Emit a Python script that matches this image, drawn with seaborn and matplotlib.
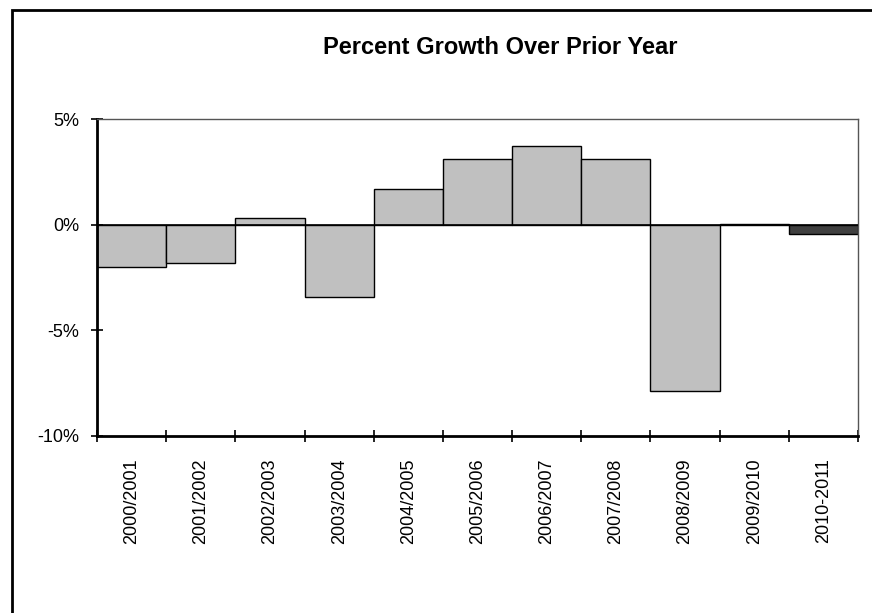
import matplotlib
matplotlib.use("Agg")
import matplotlib.pyplot as plt
import matplotlib.patches as mpatches
from matplotlib.ticker import FuncFormatter, FixedLocator
import seaborn as sns
import pandas as pd

# Data
periods = ["2000/2001", "2001/2002", "2002/2003", "2003/2004", "2004/2005",
           "2005/2006", "2006/2007", "2007/2008", "2008/2009", "2009/2010",
           "2010-2011"]
growth_pct = [-2.0, -1.8, 0.3, -3.4, 1.7, 3.1, 3.7, 3.1, -7.85, 0.05, -0.45]
bar_colors = ["#c0c0c0"] * 10 + ["#404040"]

y_ticks = [-10, -5, 0, 5]

sns.set_theme(style="white")
plt.rcParams["font.family"] = ["Liberation Sans", "DejaVu Sans"]
plt.rcParams["text.color"] = "black"

df = pd.DataFrame({"period": periods, "growth": growth_pct})

fig = plt.figure(figsize=(8.72, 6.13), dpi=100)
ax = fig.add_axes([97 / 872, 1 - 436 / 613, (858 - 97) / 872, (436 - 119) / 613])

sns.barplot(data=df, x="period", y="growth", hue="period", palette=bar_colors,
            legend=False, width=1.0, edgecolor="black", linewidth=1.0,
            saturation=1.0, ax=ax)

ax.axhline(0, color="black", linewidth=1.2, zorder=3)

ax.set_xlim(-0.5, len(periods) - 0.5)
ax.set_ylim(-10, 5)
ax.set_yticks(y_ticks)
ax.yaxis.set_major_formatter(FuncFormatter(lambda v, p: f"{v:.0f}%"))
ax.set_xlabel("")
ax.set_ylabel("")

# category labels at bar centres, tick marks at bar boundaries
ax.xaxis.set_minor_locator(FixedLocator([i - 0.5 for i in range(len(periods) + 1)]))
ax.tick_params(axis="x", which="major", length=0, pad=16, labelsize=13,
               labelrotation=90, colors="black")
ax.tick_params(axis="x", which="minor", direction="inout", length=8, width=1.2,
               bottom=True, color="black")
ax.tick_params(axis="y", which="major", direction="inout", length=8, width=1.2,
               left=True, pad=9, labelsize=13, colors="black")

for side in ["left", "bottom"]:
    ax.spines[side].set_color("black")
    ax.spines[side].set_linewidth(2.0)
for side in ["top", "right"]:
    ax.spines[side].set_color("#555555")
    ax.spines[side].set_linewidth(1.0)

fig.text(500 / 872, 1 - 48 / 613, "Percent Growth Over Prior Year",
         ha="center", va="center", fontsize=17, fontweight="bold", color="black")

# outer chart frame (cut off at right/bottom in the reference)
frame = mpatches.Rectangle((12 / 872, -0.1), 1.2, 1 - 10 / 613 + 0.1,
                           transform=fig.transFigure, fill=False,
                           edgecolor="black", linewidth=2.0, clip_on=False)
fig.patches.append(frame)

fig.savefig("out.png", dpi=100)
